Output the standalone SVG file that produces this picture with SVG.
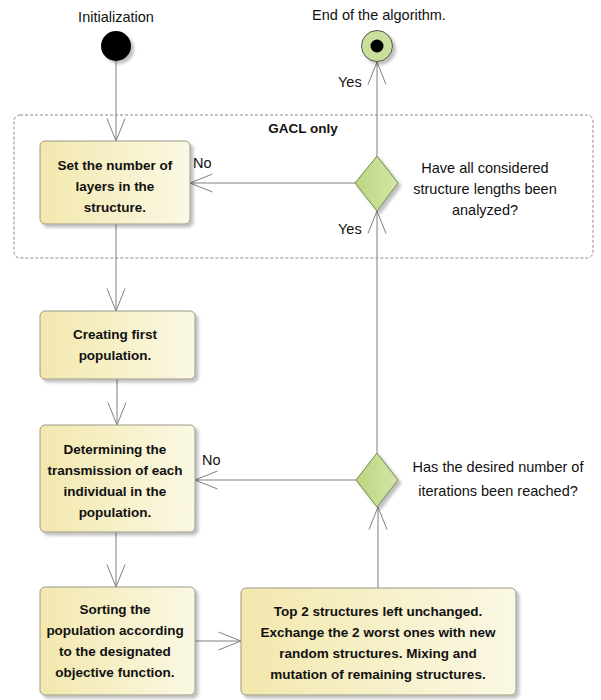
<svg xmlns="http://www.w3.org/2000/svg" width="601" height="700" viewBox="0 0 601 700">
<defs>
<linearGradient id="boxg" x1="0" y1="0" x2="1" y2="0">
<stop offset="0" stop-color="#f2e8ad"/>
<stop offset="1" stop-color="#fbf8e4"/>
</linearGradient>
<linearGradient id="diag" x1="0" y1="0" x2="1" y2="0">
<stop offset="0" stop-color="#bcd580"/>
<stop offset="1" stop-color="#d3e6a6"/>
</linearGradient>
<filter id="sh" x="-20%" y="-20%" width="140%" height="140%">
<feDropShadow dx="3" dy="3" stdDeviation="1.5" flood-color="#000" flood-opacity="0.25"/>
</filter>
<marker id="arr" markerUnits="userSpaceOnUse" markerWidth="24" markerHeight="20" refX="23" refY="9.5" orient="auto" overflow="visible">
<path d="M0.5,0.5 L23,9.5 L0.5,18.5" fill="none" stroke="#808080" stroke-width="1"/>
</marker>
</defs>
<style>
.box{fill:url(#boxg);stroke:#9a9a88;stroke-width:1;filter:url(#sh)}
.dia{fill:url(#diag);stroke:#6f8a45;stroke-width:1;filter:url(#sh)}
.t{font-family:"Liberation Sans",Arial,sans-serif;font-size:14.5px;fill:#111}
.b{font-family:"Liberation Sans",Arial,sans-serif;font-size:13.5px;font-weight:bold;fill:#111}
.c{stroke:#808080;stroke-width:1;fill:none}
.a{marker-end:url(#arr)}
</style>
<rect width="601" height="700" fill="#fff"/>

<g id="gacl">
<rect x="14" y="115" width="579" height="143" rx="6" fill="none" stroke="#8a8a8a" stroke-dasharray="3,2"/>
<text class="b" x="303" y="133" text-anchor="middle">GACL only</text>
</g>

<g id="connectors">
<line class="c a" x1="116" y1="61" x2="116" y2="141"/>
<line class="c a" x1="116" y1="224" x2="116" y2="311"/>
<line class="c a" x1="117" y1="379" x2="117" y2="425"/>
<line class="c a" x1="116" y1="532" x2="116" y2="587"/>
<line class="c a" x1="195" y1="641" x2="241" y2="641"/>
<line class="c a" x1="378" y1="588" x2="378" y2="507"/>
<line class="c a" x1="356" y1="480" x2="195" y2="480"/>
<line class="c a" x1="377" y1="453" x2="377" y2="211"/>
<line class="c a" x1="355" y1="183" x2="190" y2="183"/>
<line class="c a" x1="377" y1="156" x2="377" y2="62"/>
<text class="t" x="193" y="168">No</text>
<text class="t" x="202" y="465">No</text>
<text class="t" x="338" y="87">Yes</text>
<text class="t" x="338" y="234">Yes</text>
</g>

<g id="start">
<circle cx="116" cy="46" r="15" fill="#000" filter="url(#sh)"/>
<text class="t" x="116" y="22" text-anchor="middle">Initialization</text>
</g>

<g id="end">
<circle cx="377" cy="46" r="15.5" fill="#c9df9b" stroke="#555" stroke-width="1" filter="url(#sh)"/>
<circle cx="377" cy="46" r="6.5" fill="#000"/>
<text class="t" x="379" y="20" text-anchor="middle">End of the algorithm.</text>
</g>

<g id="setLayers">
<rect class="box" x="40" y="141" width="150" height="83" rx="5"/>
<text class="b" x="115" y="170" text-anchor="middle">Set the number of</text>
<text class="b" x="115" y="191" text-anchor="middle">layers in the</text>
<text class="b" x="115" y="212" text-anchor="middle">structure.</text>
</g>

<g id="decision1">
<polygon class="dia" points="377,156 398,183 377,211 355,183"/>
<text class="t" x="485" y="173" text-anchor="middle">Have all considered</text>
<text class="t" x="485" y="194" text-anchor="middle">structure lengths been</text>
<text class="t" x="485" y="215" text-anchor="middle">analyzed?</text>
</g>

<g id="createPop">
<rect class="box" x="40" y="311" width="155" height="68" rx="5"/>
<text class="b" x="115" y="339" text-anchor="middle">Creating first</text>
<text class="b" x="115" y="360" text-anchor="middle">population.</text>
</g>

<g id="determine">
<rect class="box" x="40" y="425" width="155" height="107" rx="5"/>
<text class="b" x="115" y="454" text-anchor="middle">Determining the</text>
<text class="b" x="115" y="475" text-anchor="middle">transmission of each</text>
<text class="b" x="115" y="496" text-anchor="middle">individual in the</text>
<text class="b" x="115" y="517" text-anchor="middle">population.</text>
</g>

<g id="decision2">
<polygon class="dia" points="377,453 398,480 377,507 356,480"/>
<text class="t" x="498" y="472" text-anchor="middle">Has the desired number of</text>
<text class="t" x="498" y="496" text-anchor="middle">iterations been reached?</text>
</g>

<g id="sorting">
<rect class="box" x="40" y="587" width="155" height="108" rx="5"/>
<text class="b" x="115" y="614" text-anchor="middle">Sorting the</text>
<text class="b" x="115" y="635" text-anchor="middle">population according</text>
<text class="b" x="115" y="656" text-anchor="middle">to the designated</text>
<text class="b" x="115" y="677" text-anchor="middle">objective function.</text>
</g>

<g id="evolve">
<rect class="box" x="241" y="588" width="275" height="107" rx="5"/>
<text class="b" x="378" y="616" text-anchor="middle">Top 2 structures left unchanged.</text>
<text class="b" x="378" y="637" text-anchor="middle">Exchange the 2 worst ones with new</text>
<text class="b" x="378" y="658" text-anchor="middle">random structures. Mixing and</text>
<text class="b" x="378" y="679" text-anchor="middle">mutation of remaining structures.</text>
</g>
</svg>
